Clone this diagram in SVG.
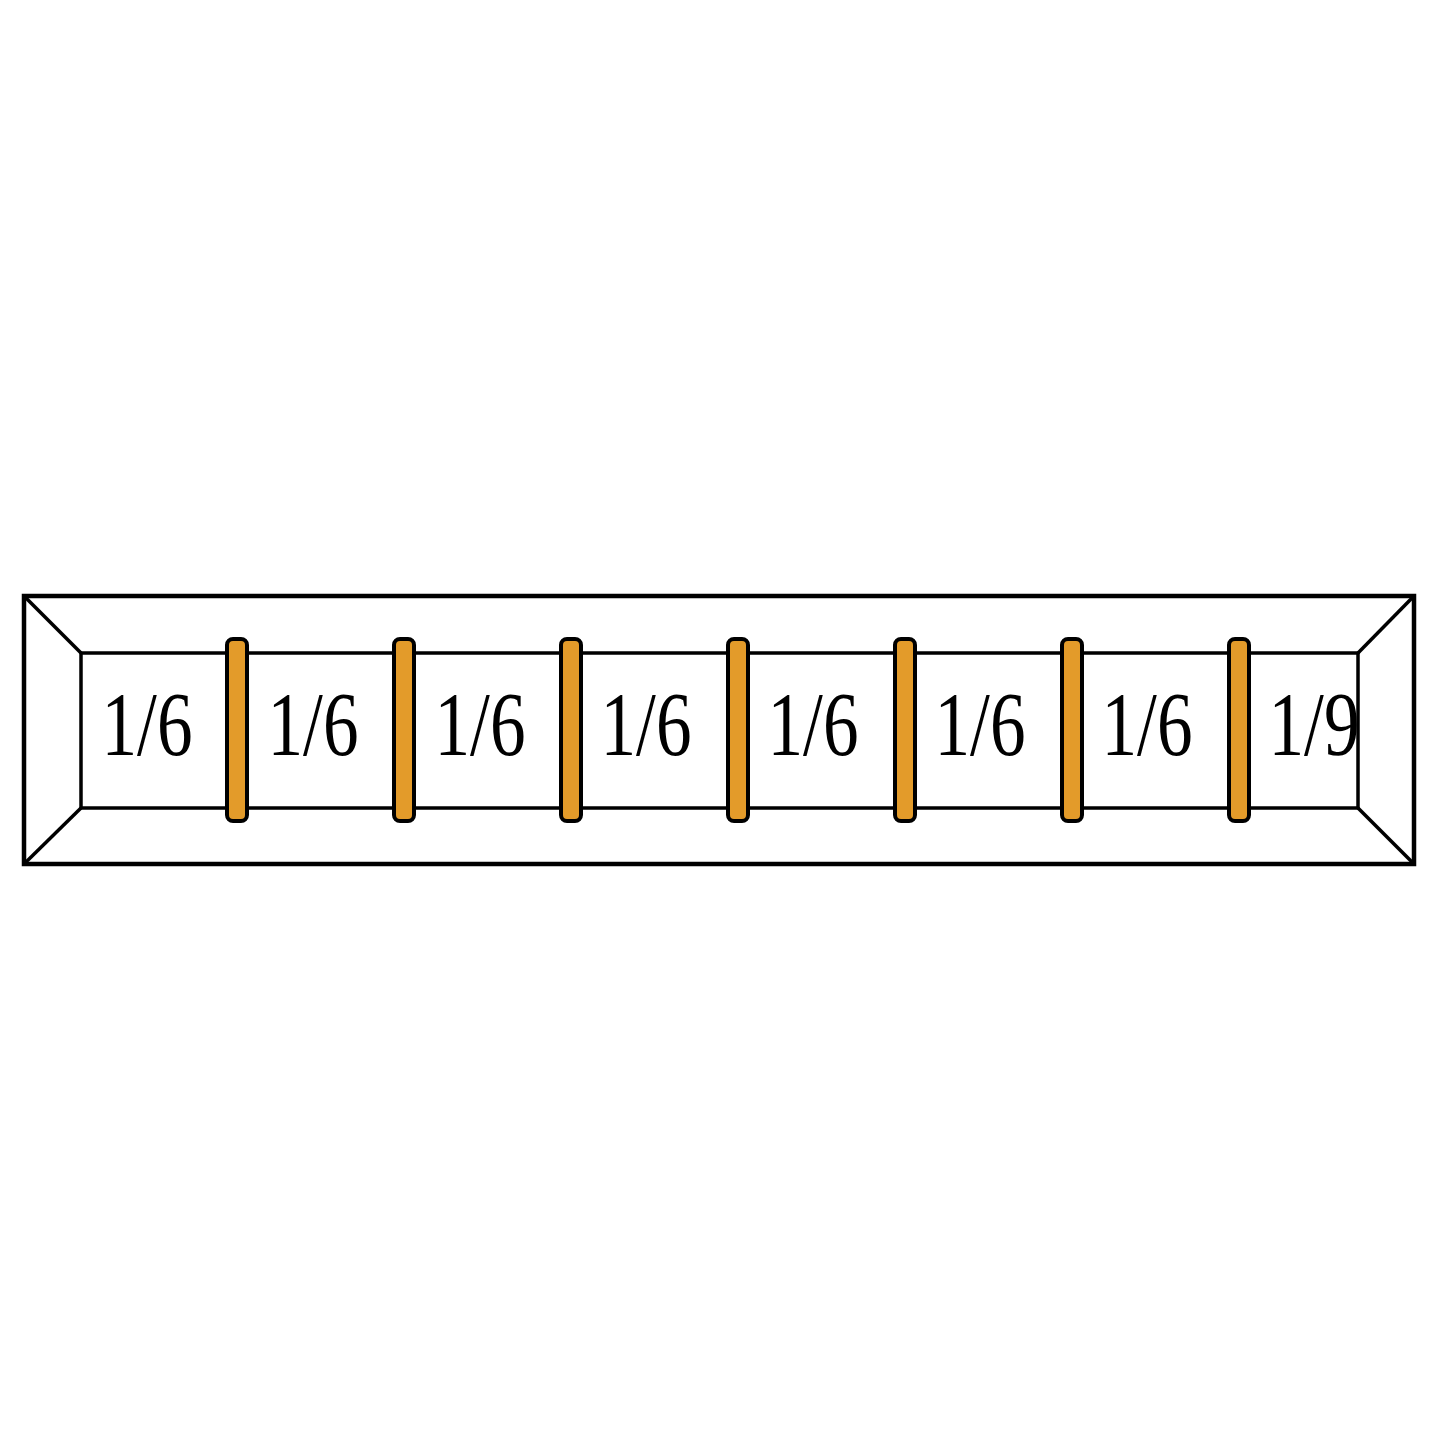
<svg xmlns="http://www.w3.org/2000/svg" width="1440" height="1440" viewBox="0 0 1440 1440">
<style>
.frame{fill:none;stroke:#000;stroke-width:4.5}
.inner{fill:none;stroke:#000;stroke-width:3.5}
.diag{stroke:#000;stroke-width:3.5}
.bar{fill:#E39B2A;stroke:#000;stroke-width:4}
.lbl{font-family:"Liberation Serif","Times New Roman",serif;font-size:92px;fill:#000;text-anchor:middle}
</style>
<rect width="1440" height="1440" fill="#fff"/>
<g id="frame">
<rect class="frame" x="24" y="596" width="1390" height="268"/>
<rect class="inner" x="81" y="653" width="1277" height="155"/>
<line class="diag" x1="24" y1="596" x2="81" y2="653"/>
<line class="diag" x1="24" y1="864" x2="81" y2="808"/>
<line class="diag" x1="1414" y1="596" x2="1358" y2="653"/>
<line class="diag" x1="1414" y1="864" x2="1358" y2="808"/>
</g>
<g id="labels">
<text class="lbl" x="147" y="755" textLength="91" lengthAdjust="spacingAndGlyphs">1/6</text>
<text class="lbl" x="313" y="755" textLength="91" lengthAdjust="spacingAndGlyphs">1/6</text>
<text class="lbl" x="480" y="755" textLength="91" lengthAdjust="spacingAndGlyphs">1/6</text>
<text class="lbl" x="646" y="755" textLength="91" lengthAdjust="spacingAndGlyphs">1/6</text>
<text class="lbl" x="813" y="755" textLength="91" lengthAdjust="spacingAndGlyphs">1/6</text>
<text class="lbl" x="980" y="755" textLength="91" lengthAdjust="spacingAndGlyphs">1/6</text>
<text class="lbl" x="1147" y="755" textLength="91" lengthAdjust="spacingAndGlyphs">1/6</text>
<text class="lbl" x="1314" y="755" textLength="91" lengthAdjust="spacingAndGlyphs">1/9</text>
</g>
<g id="bars">
<rect class="bar" x="227" y="639" width="20" height="182" rx="6"/>
<rect class="bar" x="394" y="639" width="20" height="182" rx="6"/>
<rect class="bar" x="561" y="639" width="20" height="182" rx="6"/>
<rect class="bar" x="728" y="639" width="20" height="182" rx="6"/>
<rect class="bar" x="895" y="639" width="20" height="182" rx="6"/>
<rect class="bar" x="1062" y="639" width="20" height="182" rx="6"/>
<rect class="bar" x="1229" y="639" width="20" height="182" rx="6"/>
</g>
</svg>
